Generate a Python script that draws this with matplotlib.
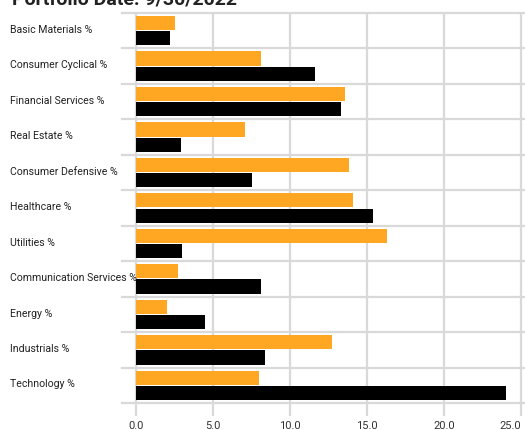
import matplotlib
matplotlib.use("Agg")
import matplotlib.pyplot as plt
import numpy as np
from matplotlib import font_manager

categories = ["Basic Materials %", "Consumer Cyclical %", "Financial Services %", "Real Estate %",
              "Consumer Defensive %", "Healthcare %", "Utilities %", "Communication Services %",
              "Energy %", "Industrials %", "Technology %"]
orange_vals = [2.5, 8.1, 13.6, 7.1, 13.8, 14.1, 16.3, 2.7, 2.0, 12.7, 8.0]
black_vals = [2.2, 11.6, 13.3, 2.9, 7.5, 15.4, 3.0, 8.1, 4.5, 8.4, 24.0]
xticks = [0, 5, 10, 15, 20, 25]
xtick_labels = ["0.0", "5.0", "10.0", "15.0", "20.0", "25.0"]
title = "Portfolio Date: 9/30/2022"

names = {f.name for f in font_manager.fontManager.ttflist}
fam = "Liberation Sans Narrow" if "Liberation Sans Narrow" in names else "Roboto"
plt.rcParams['font.family'] = [fam, 'DejaVu Sans']

W, H = 525, 431
fig = plt.figure(figsize=(W/100, H/100), dpi=100)
left, right, top, bottom = 122, 525, 14, 404
ax = fig.add_axes([left/W, 1-bottom/H, (right-left)/W, (bottom-top)/H])

n = len(categories)
y = np.arange(n)
bh = 0.40
ax.barh(y - 0.215, orange_vals, height=bh, color="#FFA623", zorder=3)
ax.barh(y + 0.215, black_vals, height=bh, color="#000000", zorder=3)
ax.set_ylim(n - 0.5, -0.5)
ax.set_xlim(-0.91, 25.26)

grid_c = "#D9D9D9"
for b in np.arange(-0.5, n, 1.0):
    ax.axhline(b, color=grid_c, lw=1.6, zorder=1, clip_on=False)
for t in xticks:
    ax.axvline(t, color=grid_c, lw=1.6, zorder=1)

for s in ax.spines.values():
    s.set_visible(False)
ax.set_yticks([])
ax.set_xticks(xticks)
ax.set_xticklabels(xtick_labels, fontsize=8, color="#333333")
ax.get_xticklabels()[-1].set_horizontalalignment("right")
ax.tick_params(axis='x', length=9, width=1.6, color=grid_c, pad=3)

for i, c in enumerate(categories):
    ax.text(10/W, 1 - (top + (i + 0.45) * (bottom - top) / n) / H, c, transform=fig.transFigure,
            fontsize=7.6, color="#222222", va="center", ha="left")

fig.text(12/W, 1 - 4/H, title, fontsize=14, fontweight="bold", color="#222222", va="baseline", ha="left")

fig.savefig("out.png", dpi=100)
